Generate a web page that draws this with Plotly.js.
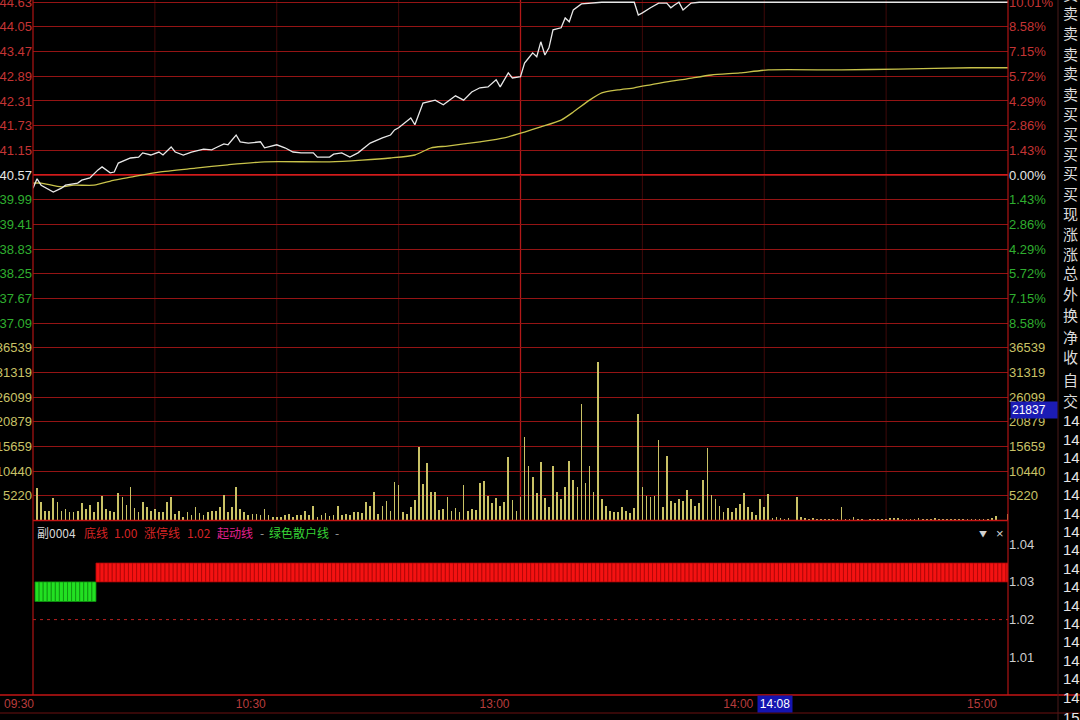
<!DOCTYPE html>
<html><head><meta charset="utf-8">
<script src="https://cdn.plot.ly/plotly-3.0.1.min.js"></script>
<style>html,body{margin:0;padding:0;background:#000;overflow:hidden}#chart{width:1080px;height:720px}</style>
</head><body><div id="chart"></div>
<script>
// ---------------- data ----------------
const prevClose = 40.57;
const priceTicks = [44.63,44.05,43.47,42.89,42.31,41.73,41.15,40.57,39.99,39.41,38.83,38.25,37.67,37.09];
const pctLabels = ['10.01%','8.58%','7.15%','5.72%','4.29%','2.86%','1.43%','0.00%','1.43%','2.86%','4.29%','5.72%','7.15%','8.58%'];
const volTicks = [5220,10440,15659,20879,26099,31319,36539];
const subTicks = [1.01,1.02,1.03,1.04];
const timeTickMinutes = [60,120,180,240];
const timeTickLabels = ['10:30','13:00','14:00','15:00'];
const openLabel = '09:30';
const gridMinutes = [30,60,90,150,180,210];
const lunchMinute = 120;

const priceMinutes = [0,1,2,5,7,8,11,12,14,16,17,19,20,21,24,26,27,29,31,32,34,35,37,39,42,44,45,47,48,50,51,53,56,57,60,62,64,66,69,70,73,74,76,78,80,83,86,88,89,90,93,94,96,99,101,104,106,108,110,112,114,115,117,118,120,121,122,123,124,125,126,127,128,130,131,132,133,135,140,148,149,150,152,154,156,157,158,159,160,162,164,240];
const priceValues = [40.26,40.48,40.33,40.17,40.26,40.33,40.38,40.45,40.50,40.69,40.76,40.62,40.64,40.85,40.97,40.99,41.09,41.04,41.11,41.04,41.23,41.11,41.04,41.11,41.18,41.16,41.21,41.30,41.28,41.51,41.35,41.32,41.35,41.21,41.28,41.21,41.11,41.09,41.09,40.99,40.99,41.06,41.09,40.99,41.09,41.32,41.44,41.51,41.63,41.68,41.91,41.75,42.26,42.33,42.22,42.43,42.33,42.52,42.62,42.64,42.81,42.64,42.97,42.85,42.88,43.20,43.32,43.44,43.35,43.70,43.39,43.56,43.98,44.03,44.26,44.17,44.45,44.59,44.63,44.63,44.33,44.38,44.50,44.61,44.61,44.50,44.57,44.63,44.45,44.61,44.63,44.63];

const avgMinutes = [0,2,7,10,15,20,24,31,40,48,57,73,81,88,94,98,102,110,116,121,125,130,133,137,140,144,148,152,156,161,167,174,181,199,213,231,240];
const avgValues = [40.38,40.38,40.29,40.33,40.33,40.45,40.52,40.64,40.73,40.81,40.88,40.88,40.92,40.97,41.04,41.21,41.25,41.35,41.44,41.58,41.70,41.86,42.05,42.33,42.50,42.57,42.62,42.69,42.76,42.83,42.92,42.97,43.04,43.04,43.06,43.09,43.09];

// one bar per minute, 09:31 .. 15:00 (minutes 1..240)
const volumes = [
 6840,4010,2110,2110,4720,3880,2110,2470,1760,1760,
 2110,3740,2470,3380,1760,3880,5280,2330,2110,1760,
 5840,4930,3380,7050,2610,1760,3880,2950,2110,2470,
 1760,1760,4010,4930,1410,2110,710,1760,1060,2820,
 1620,1200,1760,2110,2110,2820,5420,1760,2820,7050,
 2330,1760,1060,1410,1410,1060,2330,1200,710,710,
 710,1060,1410,710,1060,1200,2110,1060,3170,710,
 1060,1620,920,1060,3170,1060,1410,1060,1760,1760,
 1620,
 3880,3170,5990,1410,3170,4220,2110,8230,7530,1900,
 1410,2820,4430,15490,7740,12110,6120,5990,2260,2470,
 4940,2110,2610,1900,7530,1980,2470,2260,7950,8310,
 5280,3730,4730,3170,4010,13380,4430,1980,4940,17600,
 11610,9160,5840,12320,4730,2820,11610,5990,4580,7050,
 12660,8650,7050,24620,7890,11480,6120,33420,4580,3170,
 2110,1900,1760,2950,2050,1620,2610,22510,7170,5280,
 4940,5280,17090,2820,13590,4220,3730,4580,4220,6480,
 4580,3170,3730,8650,15280,5490,4580,3170,1760,2610,
 1760,2610,3520,5840,2820,1760,1200,4580,2820,5630,
 500,
 700,500,350,500,150,4930,700,500,350,500,
 400,300,350,300,250,300,2950,300,400,650,
 300,250,200,300,350,300,350,400,500,450,
 600,350,300,400,350,500,300,250,350,600,
 400,350,300,400,300,350,300,400,350,300,
 400,300,350,450,1050,200,150,1410
];

// sub indicator (副0004): 绿色散户线 first minutes, then 起动线 signal
const bottomLine = 1.00;
const limitLine = 1.02;
const signalBase = 1.03;
const redTop = 1.035;
const greenLow = 1.0248;
const greenLastMinute = 15;
const sidebarLabels = ['卖','卖','卖','卖','卖','卖','买','买','买','买','买','现','涨','涨','总','外','换','净','收','自','交'];
const sidebarTimes = ['14','14','14','14','14','14','14','14','14','14','14','14','14','14','14','14','15'];
const cursorVolume = '21837';
const cursorTime = '14:08';

// ---------------- build ----------------
const volMinutes = volumes.map((v,i)=>i+1);
const greenMin = [], greenHeight = [], redMin = [], redHeight = [];
for (let m = 1; m <= 240; m++) {
  if (m <= greenLastMinute) { greenMin.push(m); greenHeight.push(signalBase - greenLow); }
  else { redMin.push(m); redHeight.push(redTop - signalBase); }
}

const W = 1080, H = 720, L = 33, R = 1008, T = 0, B = 695;
const px = x => (x - L) / (R - L);
const py = y => (B - y) / (B - T);
const pxPerStep = 24.68;
const priceStep = 0.58;
const yPrevPix = 175;
const priceAt = y => prevClose + (yPrevPix - y) / pxPerStep * priceStep;
const splitPix = 335, volZeroPix = 520.5;
const volAt = y => (volZeroPix - y) / pxPerStep * 5220;
const subPerPix = 0.01 / 37.7;

const RED = '#c43434', GREEN = '#2fae2f', WHITE = '#e6e6e6', VOLC = '#c9c266';
const colorFor = v => v > prevClose + 1e-9 ? RED : (v < prevClose - 1e-9 ? GREEN : WHITE);
const priceText = priceTicks.map(v => `<span style="color:${colorFor(v)}">${v.toFixed(2)}</span>`);
const pctText = priceTicks.map((v,i) => `<span style="color:${colorFor(v)}">${pctLabels[i]}</span>`);

const traces = [
  {x: volMinutes, y: volumes, type:'bar', width:0.42, marker:{color:VOLC, line:{width:0}}, xaxis:'x', yaxis:'y2', hoverinfo:'skip'},
  {x: avgMinutes, y: avgValues, type:'scatter', mode:'lines', line:{color:'#c8c24a', width:1.3, shape:'spline', smoothing:0.6}, xaxis:'x', yaxis:'y', hoverinfo:'skip'},
  {x: priceMinutes, y: priceValues, type:'scatter', mode:'lines', line:{color:'#e8e8e8', width:1.3}, xaxis:'x', yaxis:'y', hoverinfo:'skip'},
  {x: greenMin, y: greenHeight, base: greenLow, type:'bar', width:1, marker:{color:'#22e022', line:{width:0.8, color:'#109010'}}, xaxis:'x2', yaxis:'y3', hoverinfo:'skip'},
  {x: redMin, y: redHeight, base: signalBase, type:'bar', width:1, marker:{color:'#f41212', line:{width:0.8, color:'#b00808'}}, xaxis:'x2', yaxis:'y3', hoverinfo:'skip'},
  {x: [0,240], y: [limitLine, limitLine], type:'scatter', mode:'lines', line:{color:'#b82020', width:1, dash:'3px,4px'}, xaxis:'x2', yaxis:'y3', hoverinfo:'skip'},
  {x: [0], y: [prevClose], type:'scatter', mode:'markers', marker:{opacity:0}, xaxis:'x', yaxis:'y4', hoverinfo:'skip'},
  {x: [0], y: [0], type:'scatter', mode:'markers', marker:{opacity:0}, xaxis:'x', yaxis:'y5', hoverinfo:'skip'},
  {x: [0], y: [bottomLine], type:'scatter', mode:'markers', marker:{opacity:0}, xaxis:'x2', yaxis:'y6', hoverinfo:'skip'}
];

const font = 'Liberation Sans, Arial, sans-serif';
const cjk = 'Noto Sans CJK SC, sans-serif';
const gridC = '#941414';
const priceRange = [priceAt(splitPix), priceAt(0)];
const volRange = [0, volAt(splitPix)];
const subRange = [bottomLine, bottomLine + (B - volZeroPix) * subPerPix];
const dPrice = [py(splitPix), 1];
const dVol = [py(volZeroPix), py(splitPix)];
const dSub = [0, py(volZeroPix)];

const annotations = [];
// sub panel header
const hdr = [
  ['副0004', 35, '#d6d6d6'], ['底线', 82, '#d42424'], ['1.00', 112, '#d42424'], ['涨停线', 142, '#d42424'],
  ['1.02', 185, '#d42424'], ['起动线', 215, '#e0208e'], ['-', 258, '#a0a0a0'], ['绿色散户线', 267, '#36d236'], ['-', 333, '#a0a0a0']
];
hdr.forEach(h => annotations.push({text:h[0], xref:'paper', yref:'paper', x:px(h[1]), y:py(532), xanchor:'left', yanchor:'middle', showarrow:false, font:{family:cjk, size:12, color:h[2]}}));
annotations.push({text:'▼', xref:'paper', yref:'paper', x:px(983), y:py(533), xanchor:'center', yanchor:'middle', showarrow:false, font:{family:cjk, size:8, color:'#d0d0d0'}});
annotations.push({text:'×', xref:'paper', yref:'paper', x:px(1000), y:py(533), xanchor:'center', yanchor:'middle', showarrow:false, font:{family:font, size:13, color:'#d0d0d0'}});
// time label at the open
annotations.push({text:openLabel, xref:'paper', yref:'paper', x:px(2), y:py(704), xanchor:'left', yanchor:'middle', showarrow:false, font:{family:font, size:12, color:'#b83c3c'}});
// cursor labels
annotations.push({text:cursorVolume, xref:'paper', yref:'paper', x:px(1010), y:py(410), xanchor:'left', yanchor:'middle', showarrow:false, bgcolor:'#1c1cb4', width:44, align:'left', font:{family:font, size:12, color:'#ffffff'}});
annotations.push({text:cursorTime, xref:'paper', yref:'paper', x:px(775), y:py(704), xanchor:'center', yanchor:'middle', showarrow:false, bgcolor:'#1414b0', width:32, font:{family:font, size:12, color:'#ffffff'}});
// sidebar
const sideY = [-6,13,33,53,73,93,113,133,153,173,193,213,233,253,273,293,315,336,356,379,400];
sidebarLabels.forEach((t,i) => annotations.push({text:t, xref:'paper', yref:'paper', x:px(1061), y:py(sideY[i]), xanchor:'left', yanchor:'middle', showarrow:false, font:{family:cjk, size:15, color:'#dcdcdc'}}));
sidebarTimes.forEach((t,i) => annotations.push({text:t, xref:'paper', yref:'paper', x:px(1061), y:py(i < 16 ? 421 + i*18.4 : 717), xanchor:'left', yanchor:'middle', showarrow:false, font:{family:font, size:15, color:'#e6e6e6'}}));

const shapes = [];
gridMinutes.forEach(m => shapes.push({type:'line', xref:'x', yref:'paper', x0:m, x1:m, y0:dVol[0], y1:1, line:{color:'#3e0909', width:1}, layer:'below'}));
shapes.push({type:'line', xref:'x', yref:'paper', x0:lunchMinute, x1:lunchMinute, y0:dVol[0], y1:1, line:{color:'#b21818', width:1.3}, layer:'below'});
shapes.push({type:'line', xref:'paper', yref:'y', x0:0, x1:1, y0:prevClose, y1:prevClose, line:{color:'#d41a1a', width:2}, layer:'below'});
shapes.push({type:'line', xref:'paper', yref:'paper', x0:0, x1:1, y0:dVol[0], y1:dVol[0], line:{color:'#c41414', width:1.5}});
shapes.push({type:'line', xref:'paper', yref:'paper', x0:0, x1:0, y0:0, y1:1, line:{color:'#b01414', width:1.2}});
shapes.push({type:'line', xref:'paper', yref:'paper', x0:1, x1:1, y0:0, y1:1, line:{color:'#b01414', width:1.2}});
shapes.push({type:'line', xref:'paper', yref:'paper', x0:px(0), x1:px(W), y0:0, y1:0, line:{color:'#c41414', width:1.5}});
shapes.push({type:'line', xref:'paper', yref:'paper', x0:px(0), x1:px(W), y0:py(713), y1:py(713), line:{color:'#6a1010', width:1}});
shapes.push({type:'line', xref:'paper', yref:'paper', x0:px(1058), x1:px(1058), y0:py(720), y1:py(0), line:{color:'#4a1a1a', width:1}});

const layout = {
  width: W, height: H,
  paper_bgcolor:'#000', plot_bgcolor:'#000',
  margin:{l:L, r:W-R, t:T, b:H-B, pad:0},
  showlegend:false, bargap:0, barmode:'overlay',
  font:{family:font, size:13, color:'#ccc'},
  xaxis:{domain:[0,1], range:[0,240], anchor:'free', position:0, tickmode:'array', tickvals:timeTickMinutes, ticktext:timeTickLabels,
         ticklabelposition:'outside left', ticklabelshift:-11, ticks:'', showgrid:false, zeroline:false, showline:false,
         tickfont:{family:font, size:12, color:'#b83c3c'}, fixedrange:true},
  xaxis2:{matches:'x', anchor:'y3', visible:false, fixedrange:true},
  yaxis:{domain:dPrice, range:priceRange, anchor:'x', side:'left', tickmode:'array', tickvals:priceTicks, ticktext:priceText, ticklabeloverflow:'allow',
         ticks:'', showgrid:true, gridcolor:gridC, gridwidth:1, zeroline:false, showline:false, tickfont:{family:font, size:13}, fixedrange:true},
  yaxis2:{domain:dVol, range:volRange, anchor:'x', side:'left', tickmode:'array', tickvals:volTicks, ticktext:volTicks.map(String), ticklabeloverflow:'allow',
         ticks:'', showgrid:true, gridcolor:gridC, gridwidth:1, zeroline:false, showline:false, tickfont:{family:font, size:13, color:VOLC}, fixedrange:true},
  yaxis3:{domain:dSub, range:subRange, anchor:'x2', showticklabels:false, ticks:'', showgrid:false, zeroline:false, showline:false, fixedrange:true},
  yaxis4:{overlaying:'y', anchor:'x', side:'right', range:priceRange, tickmode:'array', tickvals:priceTicks, ticktext:pctText, ticklabeloverflow:'allow',
         ticks:'', showgrid:false, zeroline:false, showline:false, tickfont:{family:font, size:13}, fixedrange:true},
  yaxis5:{overlaying:'y2', anchor:'x', side:'right', range:volRange, tickmode:'array', tickvals:volTicks, ticktext:volTicks.map(String),
         ticks:'', showgrid:false, zeroline:false, showline:false, tickfont:{family:font, size:13, color:VOLC}, fixedrange:true},
  yaxis6:{overlaying:'y3', anchor:'x2', side:'right', range:subRange, tickmode:'array', tickvals:subTicks, ticktext:subTicks.map(v=>v.toFixed(2)),
         ticks:'', showgrid:false, zeroline:false, showline:false, tickfont:{family:font, size:13, color:'#cfcfcf'}, fixedrange:true},
  annotations, shapes
};

Plotly.newPlot('chart', traces, layout, {staticPlot:true, displayModeBar:false});
</script></body></html>
